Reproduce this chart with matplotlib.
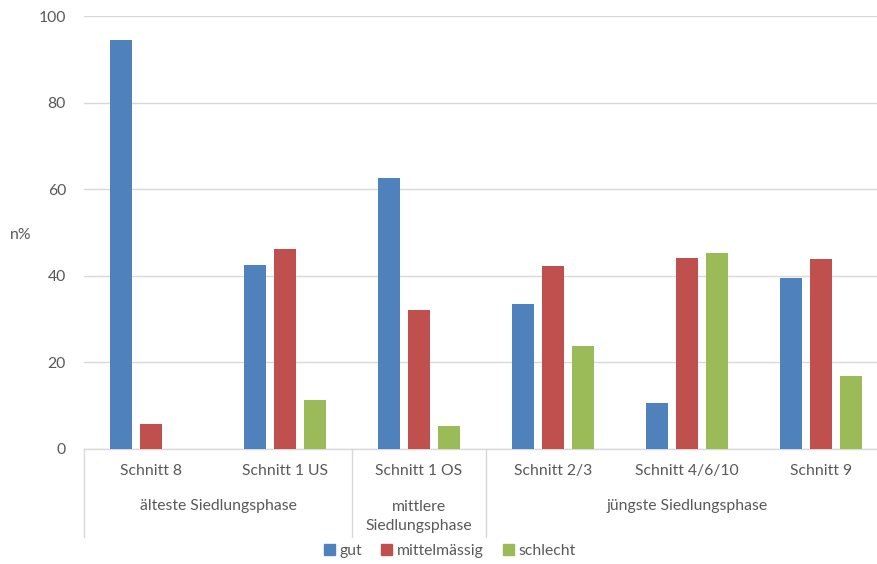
import matplotlib
matplotlib.use("Agg")
import matplotlib.pyplot as plt
import numpy as np
from matplotlib.patches import Patch

categories = ["Schnitt 8", "Schnitt 1 US", "Schnitt 1 OS", "Schnitt 2/3", "Schnitt 4/6/10", "Schnitt 9"]
groups = ["älteste Siedlungsphase", "mittlere\nSiedlungsphase", "jüngste Siedlungsphase"]
group_spans = [(0, 2), (2, 3), (3, 6)]
series_names = ["gut", "mittelmässig", "schlecht"]
gut = [94.5, 42.5, 62.6, 33.5, 10.6, 39.5]
mittel = [5.8, 46.2, 32.1, 42.3, 44.1, 43.9]
schlecht = [0.0, 11.3, 5.3, 23.8, 45.3, 16.9]
colors = ["#4F81BD", "#C0504D", "#9BBB59"]
yticks = [0, 20, 40, 60, 80, 100]

plt.rcParams['font.family'] = ['Lato', 'DejaVu Sans']
txt = "#595959"
fs = 11.3

W, H = 877, 564
fig = plt.figure(figsize=(W/100, H/100), dpi=100)
left, right, top, bottom = 84, 888, 16, 449
ax = fig.add_axes([left/W, 1-bottom/H, (right-left)/W, (bottom-top)/H])

n = len(categories)
x = np.arange(n)
bw = 0.17
off = 0.224
for i, (vals, c, name) in enumerate(zip([gut, mittel, schlecht], colors, series_names)):
    ax.bar(x + (i-1)*off, vals, width=bw, color=c, label=name, zorder=3)

ax.set_xlim(-0.5, n-0.5)
ax.set_ylim(0, 100)
ax.set_yticks(yticks)
ax.set_yticklabels([str(t) for t in yticks], color=txt, fontsize=fs)
ax.yaxis.grid(True, color="#D9D9D9", linewidth=1, zorder=0)
ax.tick_params(axis='y', length=0, pad=13)
ax.set_xticks([])
for s in ["top", "right", "left"]:
    ax.spines[s].set_visible(False)
ax.spines["bottom"].set_color("#D9D9D9")
ax.spines["bottom"].set_linewidth(1)

# category labels
for i, c in enumerate(categories):
    ax.text(i, -5.1, c, ha='center', va='center', color=txt, fontsize=fs, clip_on=False)

# group labels
for (a, b), g in zip(group_spans, groups):
    xc = (a + b - 1) / 2
    if "\n" in g:
        ax.text(xc, -15.6, g, ha='center', va='center', color=txt, fontsize=fs, linespacing=1.4, clip_on=False)
    else:
        ax.text(xc, -13.2, g, ha='center', va='center', color=txt, fontsize=fs, clip_on=False)

# separators
sep_bottom = -(537-449)/4.33
for b in [0, 2, 3]:
    ax.plot([b-0.5, b-0.5], [0, sep_bottom], color="#D9D9D9", lw=1, clip_on=False)

fig.text(21/W, 1-235/H, "n%", ha='center', va='center', color=txt, fontsize=fs)

handles = [Patch(color=c, label=nm) for c, nm in zip(colors, series_names)]
fig.legend(handles=handles, loc='center', bbox_to_anchor=(450/W, 1-551/H), ncol=3, frameon=False,
           fontsize=fs, labelcolor=txt, handlelength=0.7, handleheight=0.7, handletextpad=0.3, columnspacing=1.2)

fig.savefig("out.png", dpi=100)
